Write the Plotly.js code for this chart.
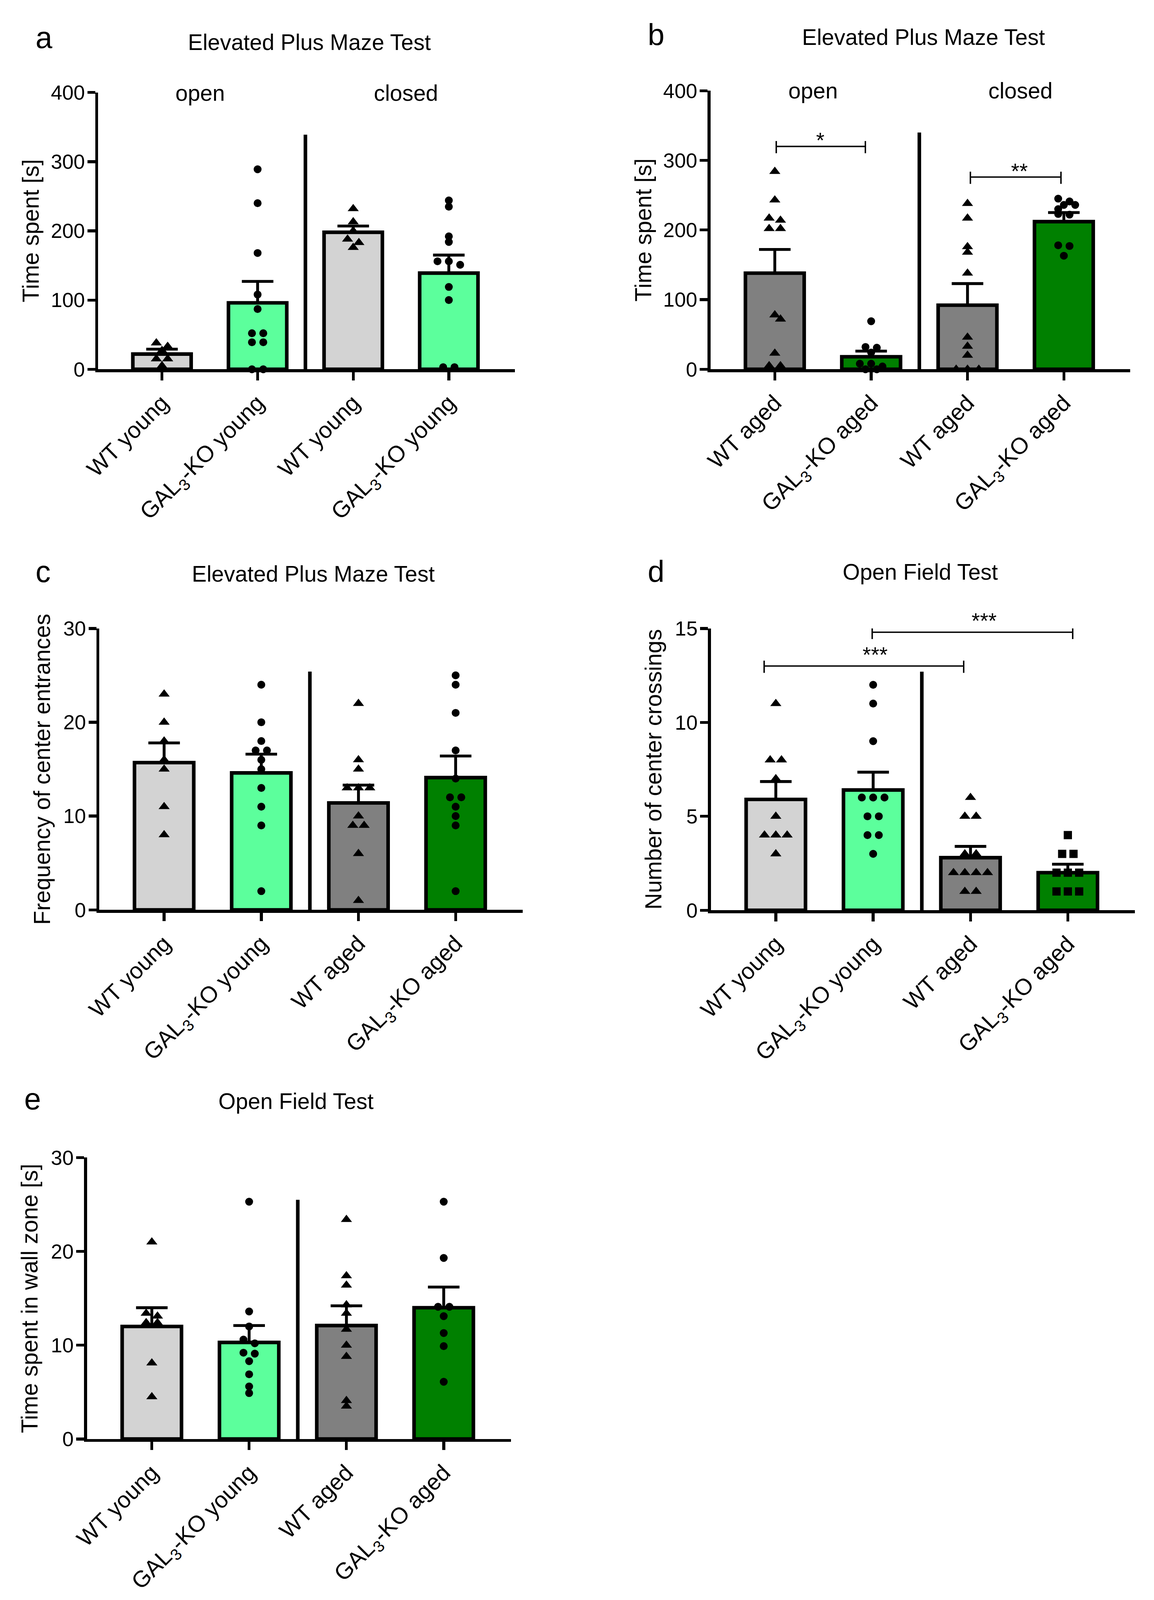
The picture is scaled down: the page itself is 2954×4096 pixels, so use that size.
<!DOCTYPE html>
<html><head><meta charset="utf-8">
<script src="https://cdn.plot.ly/plotly-3.0.1.min.js"></script>
<style>html,body{margin:0;padding:0;background:#fff;}</style>
</head><body>
<div id="chart" style="width:2954px;height:4096px;"></div>
<script>
// ---------------- DATA ----------------
const labelsYoung = ["WT young", "GAL<sub>3</sub>-KO young", "WT young", "GAL<sub>3</sub>-KO young"];
const labelsAged  = ["WT aged", "GAL<sub>3</sub>-KO aged", "WT aged", "GAL<sub>3</sub>-KO aged"];
const labelsAll   = ["WT young", "GAL<sub>3</sub>-KO young", "WT aged", "GAL<sub>3</sub>-KO aged"];

// a: Elevated Plus Maze, time spent (open | closed), young
const meanA = [22, 96, 198, 139];
const semA  = [7, 31, 9, 26];
const ptsA  = [
  [38, 33, 27, 15, 15, 5],
  [289, 240, 168, 108, 87, 52, 52, 39, 39, 0, 0],
  [232, 213, 200, 188, 183, 176],
  [244, 235, 192, 184, 156, 156, 151, 119, 100, 3, 3]
];
// b: Elevated Plus Maze, time spent (open | closed), aged
const meanB = [138, 18, 92, 212];
const semB  = [34, 8, 31, 13];
const ptsB  = [
  [284, 243, 217, 214, 202, 202, 78, 72, 23, 5, 5],
  [69, 32, 31, 24, 8, 8, 4, 0, 0],
  [238, 217, 176, 168, 138, 46, 33, 20, 0, 0, 0],
  [245, 241, 236, 236, 230, 223, 222, 178, 177, 163]
];
// c: Elevated Plus Maze, frequency of center entrances
const meanC = [15.7, 14.6, 11.4, 14.1];
const semC  = [2.1, 2.0, 1.9, 2.3];
const ptsC  = [
  [23, 20, 18, 16, 15, 11, 8],
  [24, 20, 18, 17, 17, 16, 15, 13, 11, 9, 2],
  [22, 16, 15, 13, 13, 13, 10, 9, 9, 6, 1],
  [25, 24, 21, 17, 14, 12, 12, 11, 10, 9, 2]
];
// d: Open Field, number of center crossings
const meanD = [5.9, 6.4, 2.8, 2.0];
const semD  = [0.95, 0.95, 0.6, 0.45];
const ptsD  = [
  [11, 8, 8, 7, 5, 4, 4, 4, 3],
  [12, 11, 9, 6, 6, 6, 5, 5, 4, 4, 3],
  [6, 5, 5, 3, 3, 2, 2, 2, 2, 1, 1],
  [4, 3, 3, 2, 2, 2, 1, 1, 1]
];
// e: Open Field, time spent in wall zone
const meanE = [12.0, 10.3, 12.1, 14.0];
const semE  = [2.0, 1.8, 2.1, 2.2];
const ptsE  = [
  [21, 13.4, 13.1, 12.4, 12.4, 8.1, 4.5],
  [25.3, 13.6, 12.0, 10.6, 10.2, 9.2, 9.1, 8.3, 6.9, 5.6, 4.9],
  [23.4, 17.4, 16.4, 14.3, 13.4, 11.7, 10.0, 8.8, 4.1, 3.5],
  [25.3, 19.3, 14.1, 14.1, 13.1, 11.3, 9.9, 6.1]
];

// ---------------- STYLE / LAYOUT ----------------
const W = 3219, H = 4463, S = 2954 / 3219;
const FONT = "Liberation Sans, Arial, Helvetica, sans-serif";
const LGREY = "#D3D3D3", LGREEN = "#5CFF9C", DGREY = "#808080", DGREEN = "#008000";
const fx = x => x / W, fy = y => 1 - y / H;
const XR = [-0.667, 3.69];

const panels = [
  {L:274, R:1436, T:258, B:1030, ymax:400, dtick:100, labels:labelsYoung, means:meanA, sems:semA, pts:ptsA,
   colors:[LGREY, LGREEN, LGREY, LGREEN], sym:["triangle-up","circle","triangle-up","circle"],
   ytitle:"Time spent [s]", ytx:85, title:"Elevated Plus Maze Test", tx:863, ty:118, letter:"a", lx:123, ly:105,
   sepTop:339, groups:[["open",0.40],["closed",2.55]], gy:259, brackets:[]},
  {L:1982, R:3153, T:253, B:1030, ymax:400, dtick:100, labels:labelsAged, means:meanB, sems:semB, pts:ptsB,
   colors:[DGREY, DGREEN, DGREY, DGREEN], sym:["triangle-up","circle","triangle-up","circle"],
   ytitle:"Time spent [s]", ytx:1795, title:"Elevated Plus Maze Test", tx:2576, ty:104, letter:"b", lx:1830, ly:97,
   sepTop:340, groups:[["open",0.40],["closed",2.55]], gy:253,
   brackets:[{x0:0.015, x1:0.94, y:320, txt:"*", sx:0.47, up:29}, {x0:2.03, x1:2.97, y:276, txt:"**", sx:2.54, up:29}]},
  {L:277, R:1458, T:1753, B:2538, ymax:30, dtick:10, labels:labelsAll, means:meanC, sems:semC, pts:ptsC,
   colors:[LGREY, LGREEN, DGREY, DGREEN], sym:["triangle-up","circle","triangle-up","circle"],
   ytitle:"Frequency of center entrances", ytx:117, title:"Elevated Plus Maze Test", tx:874, ty:1601, letter:"c", lx:120, ly:1594,
   sepTop:25.4, groups:[], brackets:[]},
  {L:1983, R:3166, T:1753, B:2539, ymax:15, dtick:5, labels:labelsAll, means:meanD, sems:semD, pts:ptsD,
   colors:[LGREY, LGREEN, DGREY, DGREEN], sym:["triangle-up","circle","triangle-up","square"],
   ytitle:"Number of center crossings", ytx:1823, title:"Open Field Test", tx:2567, ty:1595, letter:"d", lx:1830, ly:1594,
   sepTop:12.7, groups:[],
   brackets:[{x0:-0.12, x1:1.93, y:13.0, txt:"***", sx:1.02, up:44}, {x0:0.99, x1:3.05, y:14.8, txt:"***", sx:2.14, up:44}]},
  {L:242.5, R:1425, T:3229, B:4014, ymax:30, dtick:10, labels:labelsAll, means:meanE, sems:semE, pts:ptsE,
   colors:[LGREY, LGREEN, DGREY, DGREEN], sym:["triangle-up","circle","triangle-up","circle"],
   ytitle:"Time spent in wall zone [s]", ytx:83, title:"Open Field Test", tx:825, ty:3072, letter:"e", lx:91, ly:3065,
   sepTop:25.5, groups:[], brackets:[]}
];

// beeswarm-like horizontal arrangement (reference pixel space)
function swarm(vals, pxV, pxC) {
  const sp = 31.6, d = 22;
  const order = vals.map((v, i) => i).sort((a, b) => vals[b] - vals[a]);
  const rows = [];
  order.forEach(i => {
    const r = rows[rows.length - 1];
    if (r && (vals[r[0]] - vals[i]) * pxV < 0.5 * d) r.push(i); else rows.push([i]);
  });
  const placed = [], off = new Array(vals.length).fill(0);
  let last = 0;
  rows.forEach(r => {
    const n = r.length;
    const cand = last > 0 ? [0, -0.5, 0.5, -1, 1] : [0, 0.5, -0.5, 1, -1];
    let chosen = 0;
    for (const c of cand) {
      const ok = r.every((i, k) => {
        const x = ((k - (n - 1) / 2) + c) * sp, y = vals[i] * pxV;
        return placed.every(p => Math.hypot(p[0] - x, p[1] - y) >= 0.6 * d);
      });
      if (ok) { chosen = c; break; }
    }
    r.forEach((i, k) => {
      const x = ((k - (n - 1) / 2) + chosen) * sp;
      off[i] = x / pxC;
      placed.push([x, vals[i] * pxV]);
    });
    last = chosen;
  });
  return off;
}

const traces = [], shapes = [], annotations = [];
const layout = {
  width: 2954, height: 4096, margin: {l:0, r:0, t:0, b:0},
  paper_bgcolor: "#fff", plot_bgcolor: "rgba(0,0,0,0)", showlegend: false,
  font: {family: FONT, color: "#000"}
};
const msize = {"circle": 22 * S, "triangle-up": 27 * S, "square": 23 * S};

panels.forEach((p, idx) => {
  const n = idx === 0 ? "" : String(idx + 1);
  const xr = "x" + n, yr = "y" + n;
  const pxV = (p.B - p.T) / p.ymax;
  const pxC = (p.R - p.L) / (XR[1] - XR[0]);
  const cats = p.means.map((_, i) => i);

  layout["xaxis" + n] = {
    domain: [fx(p.L), fx(p.R)], range: XR, anchor: yr, fixedrange: true,
    tickmode: "array", tickvals: cats, ticktext: p.labels, tickangle: -45,
    ticks: "outside", ticklen: 23 * S, tickwidth: 8 * S, tickcolor: "#000",
    showline: true, linewidth: 8 * S, linecolor: "#000", showgrid: false, zeroline: false,
    tickfont: {family: FONT, size: 64 * S, color: "#000"}, ticklabelstandoff: 0
  };
  layout["yaxis" + n] = {
    domain: [fy(p.B), fy(p.T)], range: [0, p.ymax], anchor: xr, fixedrange: true,
    tickmode: "linear", tick0: 0, dtick: p.dtick,
    ticks: "outside", ticklen: 22 * S, tickwidth: 8 * S, tickcolor: "#000",
    showline: true, linewidth: 8 * S, linecolor: "#000", showgrid: false, zeroline: false,
    tickfont: {family: FONT, size: 57 * S, color: "#000"}, ticklabelstandoff: -4
  };

  traces.push({
    type: "bar", x: cats, y: p.means, width: 0.61, xaxis: xr, yaxis: yr, hoverinfo: "skip",
    marker: {color: p.colors, line: {color: "#000", width: 10 * S}},
    error_y: {type: "data", symmetric: false, array: p.sems, arrayminus: p.sems.map(() => 0),
              color: "#000", thickness: 8 * S, width: 44 * S}
  });
  p.pts.forEach((vals, g) => {
    const off = swarm(vals, pxV, pxC);
    traces.push({
      type: "scatter", mode: "markers", xaxis: xr, yaxis: yr, cliponaxis: false, hoverinfo: "skip",
      x: vals.map((v, k) => g + off[k]), y: vals,
      marker: {symbol: p.sym[g], size: msize[p.sym[g]], color: "#000", line: {width: 0}}
    });
  });

  // separator between the two halves
  shapes.push({type: "line", xref: xr, yref: yr, x0: 1.5, x1: 1.5, y0: 0, y1: p.sepTop,
               line: {color: "#000", width: 10 * S}});

  // significance brackets
  p.brackets.forEach(b => {
    const up = 15 / pxV, dn = 19 / pxV;
    shapes.push({type: "line", xref: xr, yref: yr, x0: b.x0, x1: b.x1, y0: b.y, y1: b.y, line: {color: "#000", width: 4 * S}});
    [b.x0, b.x1].forEach(xx => shapes.push({type: "line", xref: xr, yref: yr, x0: xx, x1: xx, y0: b.y - dn, y1: b.y + up,
                                             line: {color: "#000", width: 4 * S}}));
    annotations.push({xref: xr, yref: yr, x: b.sx, y: b.y, text: b.txt, showarrow: false,
                      xanchor: "center", yanchor: "middle", yshift: b.up * S - 12 * S,
                      font: {family: FONT, size: 60 * S, color: "#000"}});
  });

  // titles, letters, axis titles, group labels
  annotations.push({xref: "paper", yref: "paper", x: fx(p.tx), y: fy(p.ty), text: p.title, showarrow: false,
                    xanchor: "center", yanchor: "middle", font: {family: FONT, size: 62 * S, color: "#000"}});
  annotations.push({xref: "paper", yref: "paper", x: fx(p.lx), y: fy(p.ly), text: p.letter, showarrow: false,
                    xanchor: "center", yanchor: "middle", font: {family: FONT, size: 84 * S, color: "#000"}});
  annotations.push({xref: "paper", yref: "paper", x: fx(p.ytx), y: fy((p.T + p.B) / 2), text: p.ytitle, showarrow: false,
                    textangle: -90, xanchor: "center", yanchor: "middle", font: {family: FONT, size: 64 * S, color: "#000"}});
  p.groups.forEach(gl => {
    annotations.push({xref: xr, yref: "paper", x: gl[1], y: fy(p.gy), text: gl[0], showarrow: false,
                      xanchor: "center", yanchor: "middle", font: {family: FONT, size: 62 * S, color: "#000"}});
  });
});

layout.shapes = shapes;
layout.annotations = annotations;
Plotly.newPlot("chart", traces, layout, {staticPlot: true, displayModeBar: false});
</script>
</body></html>
